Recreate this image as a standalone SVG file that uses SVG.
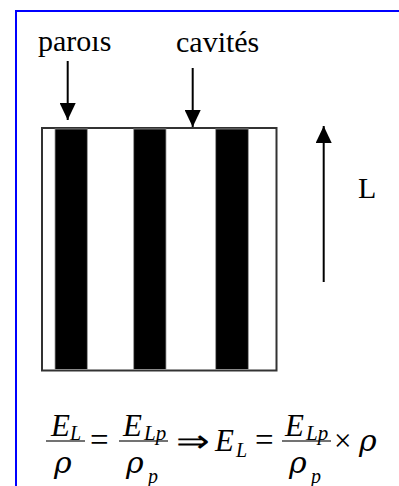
<svg xmlns="http://www.w3.org/2000/svg" width="399" height="486" viewBox="0 0 399 486">
<style>
.lbl{font-family:"Liberation Serif","Times New Roman",serif;font-size:30px;fill:#000}
.m{font-family:"Liberation Serif","Times New Roman",serif;font-style:italic;fill:#000}
.g{font-family:"DejaVu Serif","Liberation Serif",serif;font-style:italic;fill:#000;font-size:30px}
.s{font-family:"Liberation Serif","Times New Roman",serif;fill:#000}
.ln{stroke:#000;stroke-width:2;fill:none}
.bar{stroke:#444;stroke-width:1.6}
.stripe{fill:#000;stroke:#999;stroke-width:0.8}
</style>
<defs>
<marker id="ah" markerWidth="18" markerHeight="16" refX="17" refY="8" orient="auto" markerUnits="userSpaceOnUse" viewBox="0 0 18 16">
<path d="M0,0 L17,8 L0,16 Z" fill="#000"/>
</marker>
<clipPath id="clipTop"><rect x="0" y="36" width="399" height="40"/></clipPath>
</defs>
<g id="frame">
<line x1="16" y1="11" x2="399" y2="11" stroke="#0000ff" stroke-width="2"/>
<line x1="16" y1="10" x2="16" y2="486" stroke="#0000ff" stroke-width="2"/>
</g>
<g id="sample">
<rect x="42" y="128" width="234.5" height="242.5" fill="#fff" stroke="#333" stroke-width="2"/>
<rect class="stripe" x="55" y="129" width="32.3" height="240.5"/>
<rect class="stripe" x="133.7" y="129" width="32.3" height="240.5"/>
<rect class="stripe" x="215.7" y="129" width="32.6" height="240.5"/>
</g>
<g id="parois">
<text class="lbl" x="38" y="51" clip-path="url(#clipTop)">parois</text>
</g>
<g id="cavites">
<text class="lbl" x="176" y="52">cavités</text>
</g>
<g id="L">
<text class="lbl" x="358" y="198">L</text>
</g>
<g id="connectors">
<line class="ln" x1="67.7" y1="61" x2="67.7" y2="120" marker-end="url(#ah)"/>
<line class="ln" x1="192.7" y1="68" x2="192.7" y2="127" marker-end="url(#ah)"/>
<line class="ln" x1="323.7" y1="282" x2="323.7" y2="126" marker-end="url(#ah)"/>
</g>
<g id="formula">
<line class="bar" x1="46" y1="441" x2="85" y2="441"/>
<text class="m" x="51" y="436" font-size="31">E</text>
<text class="m" x="70" y="440" font-size="20">L</text>
<text class="g" x="54" y="473">ρ</text>
<text class="s" x="90" y="451" font-size="33">=</text>
<line class="bar" x1="119" y1="441" x2="168" y2="441"/>
<text class="m" x="123" y="436" font-size="31">E</text>
<text class="m" x="144" y="440" font-size="21">Lp</text>
<text class="g" x="126" y="473">ρ</text>
<text class="m" x="148" y="483" font-size="20">p</text>
<text class="s" x="176" y="452" font-size="32" textLength="34" lengthAdjust="spacingAndGlyphs">⇒</text>
<text class="m" x="215" y="451" font-size="31">E</text>
<text class="m" x="236" y="457" font-size="20">L</text>
<text class="s" x="255" y="451" font-size="33">=</text>
<line class="bar" x1="282" y1="441" x2="331" y2="441"/>
<text class="m" x="285" y="436" font-size="31">E</text>
<text class="m" x="306" y="440" font-size="21">Lp</text>
<text class="g" x="289" y="473">ρ</text>
<text class="m" x="311" y="483" font-size="20">p</text>
<text class="s" x="334" y="451" font-size="31">×</text>
<text class="g" x="359" y="451">ρ</text>
</g>
</svg>
